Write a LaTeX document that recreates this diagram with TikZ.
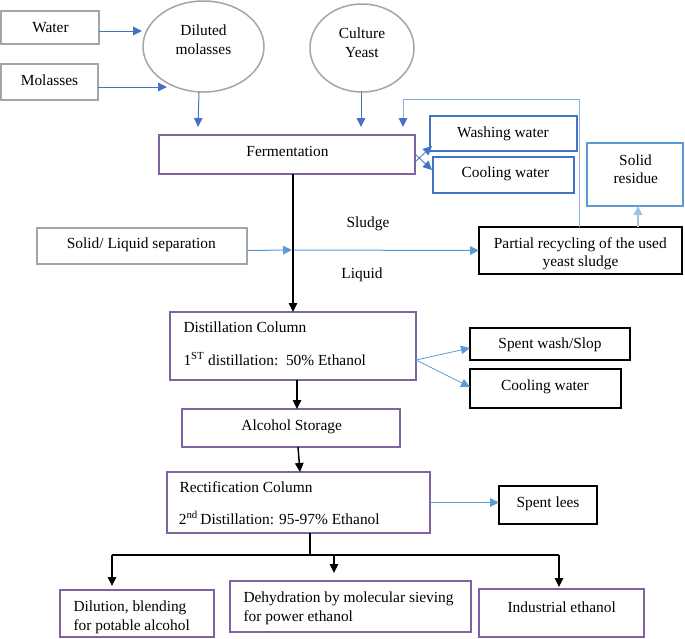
\documentclass[tikz,border=0pt]{standalone}
\usepackage{fontspec}
\setmainfont{Liberation Serif}
\usetikzlibrary{arrows.meta,shapes.geometric,calc}
\definecolor{grayc}{HTML}{A5A5A5}
\definecolor{purp}{HTML}{8064A2}
\definecolor{bluec}{HTML}{4472C4}
\definecolor{lblue}{HTML}{5B9BD5}
\definecolor{llblue}{HTML}{9DC3E6}
\definecolor{fbblue}{HTML}{8FAADC}
\newcommand{\fs}{\fontsize{15.4}{18.5}\selectfont}
\begin{document}
\begin{tikzpicture}[x=1pt,y=-1pt,
  bx/.style={rectangle,inner sep=0pt,outer sep=0pt,line width=1.5pt},
  gbox/.style={bx,draw=grayc},
  pbox/.style={bx,draw=purp},
  bbox/.style={bx,draw=bluec,line width=1.9pt},
  lbox/.style={bx,draw=lblue},
  kbox/.style={bx,draw=black,line width=1.8pt},
  ell/.style={ellipse,draw=grayc,line width=1.5pt,inner sep=0pt,outer sep=0pt},
  sz/.style 2 args={minimum width=#1pt,minimum height=#2pt},
  tx/.style={font=\fs,inner sep=0pt,anchor=base},
  lt/.style={font=\fs,inner sep=0pt,anchor=base west},
  barr/.style={draw=bluec,line width=1pt,-{Triangle[length=9pt,width=8.5pt]}},
  fbarr/.style={draw=fbblue,line width=1pt,-{Triangle[length=9pt,width=8.5pt,color=bluec]}},
  lbarr/.style={draw=lblue,line width=1pt,-{Triangle[length=9pt,width=8.5pt]}},
  llarr/.style={draw=llblue,line width=1.3pt,-{Triangle[length=9pt,width=8.5pt]}},
  karr/.style={draw=black,line width=1.5pt,-{Triangle[length=9pt,width=8.5pt]}},
  kline/.style={draw=black,line width=1.5pt}
]
\useasboundingbox (0,0) rectangle (685,638);

% ---------- boxes ----------
\node[gbox,sz={98}{33}] (wat) at (50,27.5) {};
\node[gbox,sz={97}{36}] (mol) at (49.5,82) {};
\node[ell,sz={121}{91}] (dil) at (203.5,46.5) {};
\node[ell,sz={104}{88}] (cul) at (362,48) {};
\node[pbox,sz={256}{39}] (fer) at (287,154.5) {};
\node[bbox,sz={147}{35}] (wash) at (503.5,133.5) {};
\node[bbox,sz={141}{36}] (coolA) at (503.5,175) {};
\node[lbox,sz={96}{63}] (res) at (635,174.5) {};
\node[gbox,sz={210}{36}] (sep) at (142,246) {};
\node[kbox,sz={203}{47}] (rec) at (580.5,250.5) {};
\node[pbox,sz={246}{68}] (dist) at (293,346) {};
\node[kbox,sz={160}{32}] (slop) at (550,344) {};
\node[kbox,sz={151}{39}] (coolB) at (545.5,388.5) {};
\node[pbox,sz={218}{38}] (alc) at (291,428) {};
\node[pbox,sz={263}{61}] (rect) at (298.5,502.5) {};
\node[kbox,sz={98}{38}] (lees) at (548,505) {};
\node[pbox,sz={154}{47}] (dilu) at (137,613.5) {};
\node[pbox,sz={241}{51}] (dehy) at (350.5,606.5) {};
\node[pbox,sz={165}{48}] (ind) at (561.5,613) {};

% ---------- texts ----------
\node[tx] (watT) at (50.5,32.3) {Water};
\node[tx] (molT) at (49.5,85.3) {Molasses};
\node[tx] (dilT1) at (203.5,35) {Diluted};
\node[tx] (dilT2) at (203.5,54.3) {molasses};
\node[tx] (culT1) at (362,38.3) {Culture};
\node[tx] (culT2) at (362,57.7) {Yeast};
\node[tx] (ferT) at (287.5,156.7) {Fermentation};
\node[tx] (washT) at (503,137) {Washing water};
\node[tx] (coolAT) at (505.5,177.3) {Cooling water};
\node[tx] (resT1) at (635.5,165) {Solid};
\node[tx] (resT2) at (635.8,183.3) {residue};
\node[tx] (sludT) at (368,227.7) {Sludge};
\node[tx] (liqT) at (362,278) {Liquid};
\node[tx] (sepT) at (141.3,248.5) {Solid/ Liquid separation};
\node[tx] (recT1) at (580.3,248.3) {Partial recycling of the used};
\node[tx] (recT2) at (580.5,266.7) {yeast sludge};
\node[lt] (distT1) at (183.3,332.7) {Distillation Column};
\node[lt] (distT2) at (183.3,365) {1\textsuperscript{ST} distillation:\ \ 50\% Ethanol};
\node[tx] (slopT) at (550,348.3) {Spent wash/Slop};
\node[tx] (coolBT) at (545,390.7) {Cooling water};
\node[tx] (alcT) at (291.7,430) {Alcohol Storage};
\node[lt] (rectT1) at (179.3,492.3) {Rectification Column};
\node[lt] (rectT2) at (178.7,524) {2\textsuperscript{nd}\,Distillation: 95-97\% Ethanol};
\node[tx] (leesT) at (548,507.7) {Spent lees};
\node[tx] (indT) at (561.7,612.7) {Industrial ethanol};
\node[lt] (diluT1) at (73.3,611) {Dilution, blending};
\node[lt] (diluT2) at (73.3,630.5) {for potable alcohol};
\node[lt] (dehyT1) at (243.3,602.7) {Dehydration by molecular sieving};
\node[lt] (dehyT2) at (243.3,621.7) {for power ethanol};

% ---------- coordinates ----------
\coordinate (molend) at (167,87);
\coordinate (ferin1) at (198,127);
\coordinate (ferin2) at (403,127);
\coordinate (fbtop) at (403,99);
\coordinate (washin) at (432,146);
\coordinate (coolAin) at (432,170);
\coordinate (junc) at (292,250);
\coordinate (br) at (310,555);
\coordinate (bl) at (112,555);
\coordinate (bm) at (334,555);
\coordinate (bR) at (559,555);

% ---------- connectors ----------
\draw[barr] ([yshift=-3.5pt]wat.east) -- ([yshift=-3.5pt,xshift=-1pt]wat.east -| dil.west);
\draw[barr] ([yshift=-5pt]mol.east) -- (molend);
\draw[barr] ([xshift=-4.5pt]dil.south) -- (ferin1);
\draw[barr] ([xshift=-1pt]cul.south) -- ([xshift=-1pt]cul.south |- ferin1);
\draw[fbarr] ([xshift=-1.5pt]rec.north) -- ([xshift=-1.5pt]rec.north |- fbtop) -- (fbtop) -- (ferin2);
\draw[barr,line width=0.8pt] ([yshift=-7.5pt]fer.east) -- (washin);
\draw[barr,line width=0.8pt] ([yshift=0.5pt]fer.east) -- (coolAin);
\draw[lbarr] (sep.east |- rec.west) -- (junc);
\draw[lbarr] (junc) -- (rec.west);
\draw[llarr] ([xshift=57.5pt]rec.north) -- ([xshift=57.5pt]rec.north |- res.south);
\draw[karr] (dist.north |- fer.south) -- (dist.north);
\draw[lbarr,line width=0.8pt] ([yshift=-14pt]dist.east) -- ([yshift=-4pt]slop.west);
\draw[lbarr,line width=0.8pt] ([yshift=-14pt]dist.east) -- ([yshift=1.5pt]coolB.west);
\draw[karr] ([xshift=4pt]dist.south) -- ([xshift=4pt]dist.south |- alc.north);
\draw[karr] ([xshift=7pt]alc.south) -- ([xshift=1.5pt]rect.north);
\draw[lbarr] (rect.east) -- (rect.east -| lees.west);
\draw[kline] ([xshift=11.5pt]rect.south) -- (br);
\draw[kline] (bl) -- (bR);
\draw[karr] (bl) -- ([yshift=4pt]bl |- dilu.north);
\draw[karr] (bm) -- ([yshift=8pt]bm |- dehy.north);
\draw[karr] (bR) -- ([yshift=2pt]bR |- ind.north);
\end{tikzpicture}
\end{document}
